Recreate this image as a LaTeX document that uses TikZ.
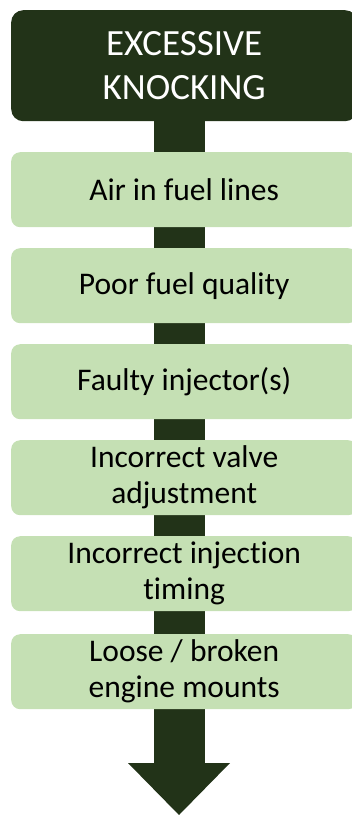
\documentclass[tikz,border=0pt]{standalone}
\usepackage{fontspec}
\setmainfont[Ligatures=NoCommon,Contextuals=NoAlternate]{Carlito}
\usetikzlibrary{arrows.meta,backgrounds}
\definecolor{knockdark}{HTML}{223318}
\definecolor{causegreen}{HTML}{C5E0B4}

\begin{document}
\begin{tikzpicture}[x=1pt,y=-1pt,
  titlebox/.style={fill=knockdark,text=white,rounded corners=12pt,anchor=north west,minimum width=346pt,minimum height=111pt,inner sep=0pt,align=center,font=\fontsize{37}{44}\selectfont},
  causebox/.style={fill=causegreen,rounded corners=9pt,anchor=north west,minimum width=346pt,minimum height=75pt,inner sep=0pt,align=center,font=\fontsize{31.5}{36}\selectfont},
  stem/.style={draw=knockdark,line width=51pt,-{Triangle[width=102pt,length=52pt,line width=0pt]}}]
\useasboundingbox (0,0) rectangle (352,815) ;
\clip (0,0) rectangle (352,815) ;
\node[titlebox] (knock) at (11,10) {EXCESSIVE\\KNOCKING} ;
\node[causebox] (air) at (11,152) {Air in fuel lines} ;
\node[causebox] (fuel) at (11,248) {Poor fuel quality} ;
\node[causebox] (injector) at (11,344) {Faulty injector(s)} ;
\node[causebox] (valve) at (11,440) {Incorrect valve\\adjustment} ;
\node[causebox] (timing) at (11,536) {Incorrect injection\\timing} ;
\node[causebox] (mounts) at (11,634) {Loose / broken\\engine mounts} ;
\coordinate (tip) at (179,815) ;
\begin{scope}[on background layer]
\draw [stem] (knock.south -| tip) -- (tip) ;
\end{scope}
\end{tikzpicture}
\end{document}
